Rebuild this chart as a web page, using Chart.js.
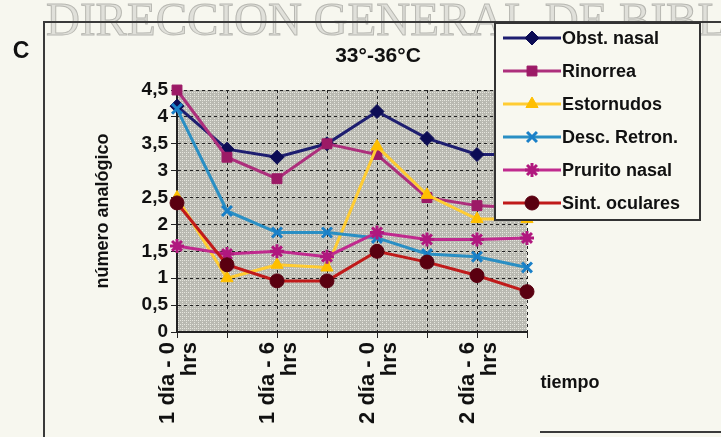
<!DOCTYPE html>
<html lang="es">
<head>
    <meta charset="UTF-8">
    <title>Síntomas 33-36°C</title>
    <script src="https://cdn.jsdelivr.net/npm/chart.js"></script>
    <style>
        html, body { margin: 0; padding: 0; background: #f7f7ef; }
        #caja { width: 721px; height: 437px; }
    </style>
</head>
<body>
    <div id="caja"><canvas id="miGrafica" width="721" height="437"></canvas></div>

    <script>
        // categorias (solo se rotulan las pares)
        const categorias = ['1 día - 0 hrs', '1 día - 3 hrs', '1 día - 6 hrs', '1 día - 9 hrs',
                            '2 día - 0 hrs', '2 día - 3 hrs', '2 día - 6 hrs', '2 día - 9 hrs'];
        const etiquetasX = [['1 día - 0', 'hrs'], '', ['1 día - 6', 'hrs'], '',
                            ['2 día - 0', 'hrs'], '', ['2 día - 6', 'hrs'], ''];
        const ticksY = [0, 0.5, 1, 1.5, 2, 2.5, 3, 3.5, 4, 4.5];

        const obstNasal    = [4.2, 3.4, 3.25, 3.5, 4.1, 3.6, 3.3, 3.3];
        const rinorrea     = [4.5, 3.25, 2.85, 3.5, 3.3, 2.5, 2.35, 2.3];
        const estornudos   = [2.5, 1.0, 1.25, 1.2, 3.45, 2.55, 2.1, 2.1];
        const descRetron   = [4.15, 2.25, 1.85, 1.85, 1.75, 1.45, 1.4, 1.2];
        const pruritoNasal = [1.6, 1.45, 1.5, 1.4, 1.85, 1.72, 1.72, 1.75];
        const sintOculares = [2.4, 1.25, 0.95, 0.95, 1.5, 1.3, 1.05, 0.75];

        const fuente = '"Liberation Sans", Arial, sans-serif';

        function serie(label, data, linea, punto, estilo, radio, orden) {
            const abierto = estilo === 'crossRot' || estilo === 'star';
            return {
                label: label,
                data: data,
                borderColor: linea,
                borderWidth: 3,
                pointStyle: estilo,
                pointRadius: radio,
                pointHoverRadius: radio,
                pointBackgroundColor: punto,
                pointBorderColor: punto,
                pointBorderWidth: abierto ? 3 : 1,
                tension: 0,
                clip: false,
                order: orden
            };
        }

        // fondo con trama gris
        const trama = document.createElement('canvas');
        trama.width = 4; trama.height = 4;
        const tctx = trama.getContext('2d');
        tctx.fillStyle = '#b9b9b1';
        tctx.fillRect(0, 0, 4, 4);
        tctx.fillStyle = '#e6e6de';
        tctx.fillRect(0, 0, 1, 1);
        tctx.fillRect(2, 2, 1, 1);
        tctx.fillRect(2, 0, 1, 1);

        const fondo = {
            id: 'fondo',
            beforeDraw(chart) {
                const ctx = chart.ctx, a = chart.chartArea;
                ctx.save();
                ctx.fillStyle = '#f7f7ef';
                ctx.fillRect(0, 0, chart.width, chart.height);
                // marca de agua
                ctx.font = '47px "Liberation Serif", "Times New Roman", serif';
                ctx.fillStyle = '#e0e0da';
                ctx.strokeStyle = '#b8b8b2';
                ctx.lineWidth = 1;
                ctx.textBaseline = 'alphabetic';
                ctx.fillText('DIRECCION GENERAL DE BIBLIOTECAS', 46, 35);
                ctx.strokeText('DIRECCION GENERAL DE BIBLIOTECAS', 46, 35);
                ctx.fillStyle = ctx.createPattern(trama, 'repeat');
                ctx.fillRect(a.left, a.top, a.right - a.left, a.bottom - a.top);
                ctx.restore();
            },
            afterDraw(chart) {
                const ctx = chart.ctx;
                ctx.save();
                // marco
                ctx.strokeStyle = '#3a3a3a';
                ctx.lineWidth = 2;
                ctx.beginPath();
                ctx.moveTo(44, 437); ctx.lineTo(44, 22); ctx.lineTo(721, 22);
                ctx.moveTo(540, 432); ctx.lineTo(721, 432);
                ctx.stroke();

                ctx.fillStyle = '#111';
                ctx.textBaseline = 'middle';
                ctx.textAlign = 'center';
                ctx.font = 'bold 23px ' + fuente;
                ctx.fillText('C', 21, 52);
                ctx.font = 'bold 21px ' + fuente;
                ctx.fillText('33°-36°C', 378, 56);
                ctx.font = 'bold 18px ' + fuente;
                ctx.fillText('tiempo', 570, 383);

                // leyenda
                const lx = 495, ly = 23, lw = 205, lh = 197;
                ctx.fillStyle = '#f8f8f0';
                ctx.fillRect(lx, ly, lw, lh);
                ctx.strokeStyle = '#333';
                ctx.strokeRect(lx, ly, lw, lh);
                ctx.textAlign = 'left';
                ctx.font = 'bold 18px ' + fuente;
                chart.data.datasets.forEach((ds, i) => {
                    const y = ly + 15 + i * 33;
                    ctx.strokeStyle = ds.borderColor;
                    ctx.lineWidth = 3;
                    ctx.beginPath();
                    ctx.moveTo(lx + 8, y); ctx.lineTo(lx + 66, y);
                    ctx.stroke();
                    ctx.fillStyle = ds.pointBackgroundColor;
                    ctx.strokeStyle = ds.pointBorderColor;
                    ctx.lineWidth = ds.pointBorderWidth;
                    Chart.helpers.drawPoint(ctx, {
                        pointStyle: ds.pointStyle, radius: ds.pointRadius,
                        rotation: 0, borderWidth: ds.pointBorderWidth
                    }, lx + 37, y);
                    ctx.fillStyle = '#111';
                    ctx.fillText(ds.label, lx + 67, y + 1);
                });
                ctx.restore();
            }
        };

        const ctx = document.getElementById('miGrafica').getContext('2d');
        new Chart(ctx, {
            type: 'line',
            data: {
                labels: categorias,
                datasets: [
                    serie('Obst. nasal', obstNasal, '#1e1e70', '#0c0c55', 'rectRot', 7, 6),
                    serie('Rinorrea', rinorrea, '#ad2f7c', '#9c1a66', 'rect', 7, 5),
                    serie('Estornudos', estornudos, '#ffcc33', '#ffbf00', 'triangle', 7, 4),
                    serie('Desc. Retron.', descRetron, '#2a8fc4', '#1a80c8', 'crossRot', 7, 3),
                    serie('Prurito nasal', pruritoNasal, '#c02a8e', '#b0187e', 'star', 7, 2),
                    serie('Sint. oculares', sintOculares, '#c01a1a', '#5a0010', 'circle', 7, 1)
                ]
            },
            options: {
                responsive: false,
                animation: false,
                layout: { padding: { left: 88, top: 90, right: 194, bottom: 0 } },
                plugins: {
                    legend: { display: false },
                    tooltip: { enabled: false }
                },
                scales: {
                    x: {
                        offset: false,
                        afterFit: s => { s.height = 105; },
                        grid: { color: '#222', lineWidth: 1, tickLength: 6, tickColor: '#222' },
                        border: { color: '#222', width: 2, dash: [3, 3] },
                        ticks: {
                            autoSkip: false,
                            minRotation: 90,
                            maxRotation: 90,
                            padding: 4,
                            labelOffset: -9,
                            color: '#111',
                            font: { family: fuente, size: 22, weight: 'bold', lineHeight: 1.0 },
                            callback: (v, i) => etiquetasX[i]
                        }
                    },
                    y: {
                        min: 0,
                        max: 4.5,
                        afterFit: s => { s.width = 89; },
                        afterBuildTicks: s => { s.ticks = ticksY.map(v => ({ value: v })); },
                        grid: { color: '#222', lineWidth: 1, tickLength: 6, tickColor: '#222' },
                        border: { color: '#222', width: 2, dash: [3, 3] },
                        title: {
                            display: true,
                            text: 'número analógico',
                            color: '#111',
                            font: { family: fuente, size: 18, weight: 'bold' }
                        },
                        ticks: {
                            padding: 3,
                            color: '#111',
                            font: { family: fuente, size: 19, weight: 'bold' },
                            callback: v => String(v).replace('.', ',')
                        }
                    }
                }
            },
            plugins: [fondo]
        });
    </script>
</body>
</html>
